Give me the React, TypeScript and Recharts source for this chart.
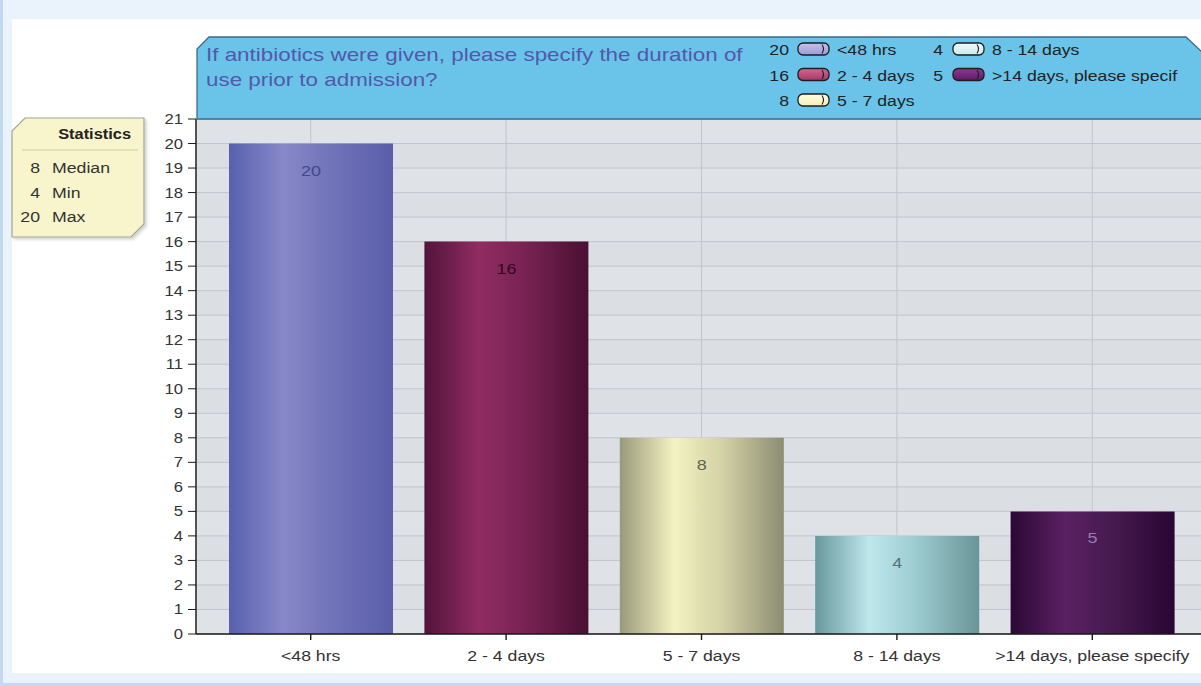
import React from 'react';
import { BarChart, Bar, XAxis, YAxis, CartesianGrid, Cell, LabelList } from 'recharts';

// Answers to the duration question
const categories = ['<48 hrs', '2 - 4 days', '5 - 7 days', '8 - 14 days', '>14 days, please specify'];
const counts = [20, 16, 8, 4, 5];
const legendLabels = ['<48 hrs', '2 - 4 days', '5 - 7 days', '8 - 14 days', '>14 days, please specif'];
const yTicks = [0, 1, 2, 3, 4, 5, 6, 7, 8, 9, 10, 11, 12, 13, 14, 15, 16, 17, 18, 19, 20, 21];
const statNames = ['Median', 'Min', 'Max'];
const statValues = [8, 4, 20];
const titleLines = ['If antibiotics were given, please specify the duration of', 'use prior to admission?'];

// Cylinder shading per bar: edge, highlight, mid, edge
const barShades = [
  ['#5860ae', '#8688c9', '#7274b9', '#5a5ea9'],
  ['#52143a', '#902c62', '#782252', '#4a0f32'],
  ['#999a7a', '#f3f2c2', '#d4d2a6', '#8c8d72'],
  ['#68989c', '#bfe7ec', '#9ccbcf', '#6a9497'],
  ['#2b0834', '#5a2062', '#461a50', '#290632'],
];
const labelInk = ['#45478a', '#330820', '#62624f', '#52747a', '#9a7cae'];
const swatchFill = [
  ['#c4c2ec', '#9c99d6'],
  ['#d06a94', '#a83666'],
  ['#fffde0', '#f4efb8'],
  ['#eefafa', '#cfe9ea'],
  ['#8a3a94', '#5e1a68'],
];

const FONT = '"Liberation Sans", Arial, Helvetica, sans-serif';
const SX = 1.22;

const data = categories.map((name, i) => ({ name, count: counts[i] }));

const XTick = (p: any) => (
  <g transform={`translate(${p.x},${p.y + 21})`}>
    <text transform={`scale(${SX},1)`} textAnchor="middle" fontSize={14.5} fill="#333" fontFamily={FONT}>
      {p.payload.value}
    </text>
  </g>
);

const YTick = (p: any) => (
  <g transform={`translate(${p.x},${p.y + 5})`}>
    <text transform={`scale(1.15,1)`} textAnchor="end" fontSize={14.5} fill="#333" fontFamily={FONT}>
      {p.payload.value}
    </text>
  </g>
);

const BarValue = (p: any) => {
  const { x, y, width, value, index } = p;
  return (
    <g transform={`translate(${x + width / 2},${y + 32})`}>
      <text transform={`scale(1.2,1)`} textAnchor="middle" fontSize={15} fill={labelInk[index]} fontFamily={FONT}>
        {value}
      </text>
    </g>
  );
};

const Txt = (props: any) => {
  const { x, y, anchor = 'start', size = 14.5, weight = 'normal', fill = '#333', sx = SX, children } = props;
  return (
    <g transform={`translate(${x},${y})`}>
      <text transform={`scale(${sx},1)`} textAnchor={anchor} fontSize={size} fontWeight={weight} fill={fill} fontFamily={FONT}>
        {children}
      </text>
    </g>
  );
};

function Legend() {
  const cols = [
    { num: 789, sw: 798, lab: 837 },
    { num: 943, sw: 953, lab: 992 },
  ];
  return (
    <g>
      {legendLabels.map((label, i) => {
        const c = cols[i < 3 ? 0 : 1];
        const row = i < 3 ? i : i - 3;
        const base = 55 + row * 25.5;
        const top = base - 12;
        return (
          <g key={label}>
            <Txt x={c.num} y={base} anchor="end" fill="#222">{counts[i]}</Txt>
            <rect x={c.sw} y={top} width={31} height={12} rx={5} fill={`url(#sw${i})`} stroke="#1e1e1e" strokeWidth={1.3} />
            <path d={`M${c.sw + 24},${top + 1.5} Q${c.sw + 27},${top + 6} ${c.sw + 24},${top + 10.5}`} fill="none" stroke="#1e1e1e" strokeWidth={1.1} />
            <Txt x={c.lab} y={base} fill="#222">{label}</Txt>
          </g>
        );
      })}
    </g>
  );
}

export default function App() {
  return (
    <div style={{ position: 'absolute', left: 0, top: 0, width: 1201, height: 686, overflow: 'hidden', background: '#eaf3fc' }}>
      <div style={{ position: 'absolute', left: 0, top: 0, width: 3, height: 686, background: '#c3d8f1' }} />
      <div style={{ position: 'absolute', left: 0, top: 683, width: 1201, height: 3, background: '#c3d8f1' }} />
      <div style={{ position: 'absolute', left: 12, top: 19, width: 1189, height: 654, background: '#ffffff' }} />
      <div style={{ position: 'absolute', left: 0, top: 0 }}>
        <BarChart width={1215} height={686} data={data} margin={{ top: 119, right: 0, bottom: 0, left: 0 }}>
          <defs>
            {barShades.map((s, i) => (
              <linearGradient key={i} id={`bar${i}`} x1="0" y1="0" x2="1" y2="0">
                <stop offset="0%" stopColor={s[0]} />
                <stop offset="33%" stopColor={s[1]} />
                <stop offset="62%" stopColor={s[2]} />
                <stop offset="100%" stopColor={s[3]} />
              </linearGradient>
            ))}
          </defs>
          <CartesianGrid
            stroke="#c2c5cb"
            strokeWidth={1}
            horizontalFill={['#dfe2e6', '#dbdee3']}
            fill="#dfe2e6"
          />
          <XAxis
            dataKey="name"
            interval={0}
            height={52}
            tickSize={6}
            tickMargin={0}
            padding={{ left: 17, right: 25 }}
            axisLine={{ stroke: '#1a1a1a', strokeWidth: 1.4 }}
            tickLine={{ stroke: '#1a1a1a', strokeWidth: 1.4 }}
            tick={XTick}
          />
          <YAxis
            domain={[0, 21]}
            ticks={yTicks}
            interval={0}
            width={196}
            tickSize={8}
            tickMargin={5}
            axisLine={{ stroke: '#1a1a1a', strokeWidth: 1.4 }}
            tickLine={{ stroke: '#1a1a1a', strokeWidth: 1 }}
            tick={YTick}
          />
          <Bar dataKey="count" barSize={164} isAnimationActive={false}>
            {data.map((d, i) => (
              <Cell key={d.name} fill={`url(#bar${i})`} />
            ))}
            <LabelList dataKey="count" content={BarValue} />
          </Bar>
        </BarChart>
      </div>
      <svg width={1201} height={686} style={{ position: 'absolute', left: 0, top: 0, pointerEvents: 'none' }}>
        <defs>
          {swatchFill.map((s, i) => (
            <linearGradient key={i} id={`sw${i}`} x1="0" y1="0" x2="0" y2="1">
              <stop offset="0%" stopColor={s[0]} />
              <stop offset="100%" stopColor={s[1]} />
            </linearGradient>
          ))}
          <filter id="soft" x="-10%" y="-10%" width="130%" height="130%">
            <feDropShadow dx="2" dy="2" stdDeviation="1.5" floodColor="#000" floodOpacity="0.18" />
          </filter>
        </defs>

        {/* title banner */}
        <path d="M197,119 L197,49 L209,37 L1186,37 L1202,52 L1202,119 Z" fill="#6ac4ea" stroke="#3d6b86" strokeWidth={1.3} />
        {titleLines.map((t, i) => (
          <Txt key={t} x={206} y={61 + i * 24.5} size={18} sx={1.245} fill="#5258aa">{t}</Txt>
        ))}
        <Legend />

        {/* statistics box */}
        <path d="M12,131 L25,118 L144,118 L144,224 L131,237 L12,237 Z" fill="#f8f5cc" stroke="#a5a596" strokeWidth={1.2} filter="url(#soft)" />
        <Txt x={131} y={139} anchor="end" size={14.5} weight="bold" sx={1.13} fill="#222">Statistics</Txt>
        <line x1={22} y1={150} x2={138} y2={150} stroke="#cfcbb0" strokeWidth={1} />
        {statNames.map((n, i) => (
          <g key={n}>
            <Txt x={40} y={173 + i * 24.5} anchor="end">{statValues[i]}</Txt>
            <Txt x={52} y={173 + i * 24.5}>{n}</Txt>
          </g>
        ))}
      </svg>
    </div>
  );
}
